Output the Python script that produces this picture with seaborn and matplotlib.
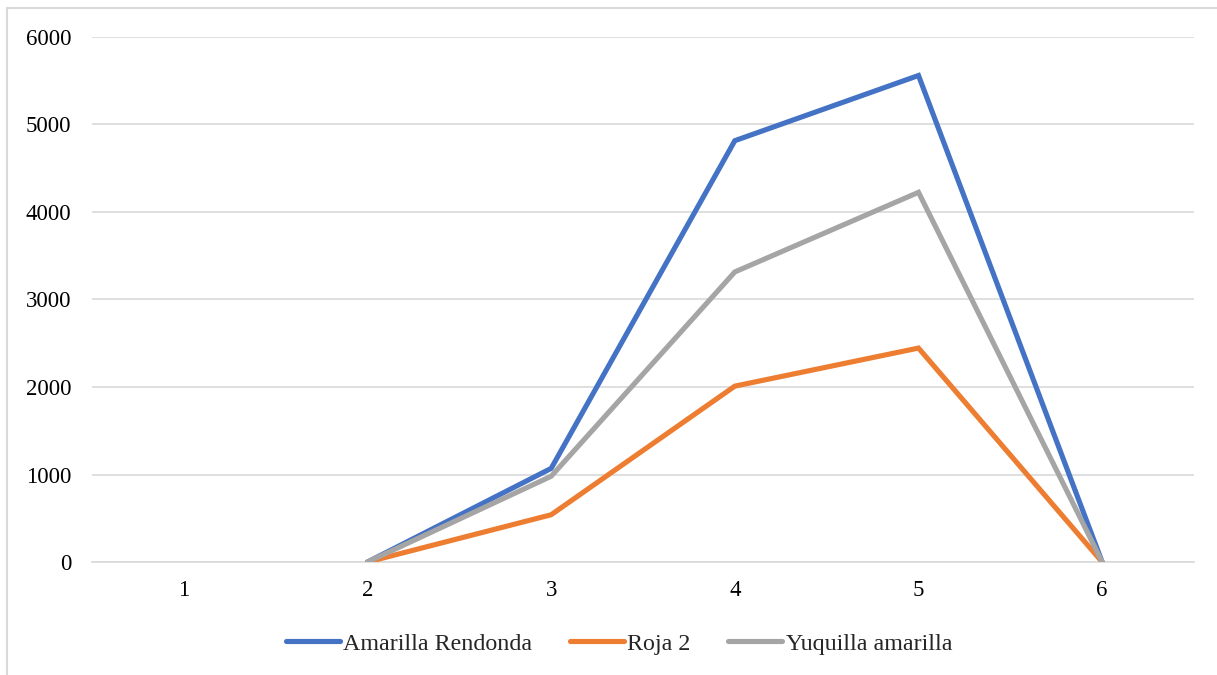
import numpy as np
import pandas as pd
import matplotlib
matplotlib.use("Agg")
import matplotlib.pyplot as plt
import seaborn as sns
from matplotlib.patches import Rectangle

# Data
categories = [1, 2, 3, 4, 5, 6]
amarilla_rendonda = [np.nan, 0, 1070, 4815, 5560, 0]
roja_2 = [np.nan, 0, 540, 2010, 2445, 0]
yuquilla_amarilla = [np.nan, 0, 980, 3315, 4225, 0]
series_names = ["Amarilla Rendonda", "Roja 2", "Yuquilla amarilla"]
colors = ["#4472C4", "#ED7D31", "#A5A5A5"]
y_ticks = [0, 1000, 2000, 3000, 4000, 5000, 6000]

df = pd.DataFrame({
    "x": categories * 3,
    "valor": amarilla_rendonda + roja_2 + yuquilla_amarilla,
    "serie": [series_names[0]] * 6 + [series_names[1]] * 6 + [series_names[2]] * 6,
})

sns.set_theme(style="white")
plt.rcParams["font.family"] = ["Liberation Serif", "DejaVu Serif"]

fig = plt.figure(figsize=(12.17, 6.75), dpi=100)
ax = fig.add_axes([0.0756, 0.1674, 0.9055, 0.7778])

sns.lineplot(data=df.dropna(), x="x", y="valor", hue="serie", hue_order=series_names,
             palette=colors, linewidth=3.7, ax=ax, legend=False, zorder=3,
             solid_capstyle="round", solid_joinstyle="miter")

ax.set_xlim(0.5, 6.5)
ax.set_ylim(0, 6000)
ax.set_yticks(y_ticks)
ax.set_yticklabels([str(v) for v in y_ticks])
ax.set_xticks(categories)
ax.set_xticklabels([str(c) for c in categories])
ax.tick_params(axis="both", labelsize=16.5, colors="black", length=0)
ax.tick_params(axis="y", pad=15)
ax.tick_params(axis="x", pad=13)
ax.set_xlabel("")
ax.set_ylabel("")
ax.grid(axis="y", color="#D9D9D9", linewidth=1.2, zorder=0)
ax.grid(axis="x", visible=False)
for side in ["top", "right", "left"]:
    ax.spines[side].set_visible(False)
ax.spines["bottom"].set_color("#D9D9D9")
ax.spines["bottom"].set_linewidth(1.2)

handles = [plt.Line2D([0], [0], color=c, linewidth=3.7, solid_capstyle="round") for c in colors]
fig.legend(handles, series_names, loc="center", bbox_to_anchor=(0.5086, 0.046), ncol=3,
           frameon=False, fontsize=17.3, handlelength=2.25, handletextpad=0.15,
           columnspacing=1.55)

# Chart-area border
fig.patches.append(Rectangle((0.0058, -0.01), 1.0, 0.998, transform=fig.transFigure,
                             fill=False, edgecolor="#D9D9D9", linewidth=1.5))

fig.savefig("out.png", dpi=100)
